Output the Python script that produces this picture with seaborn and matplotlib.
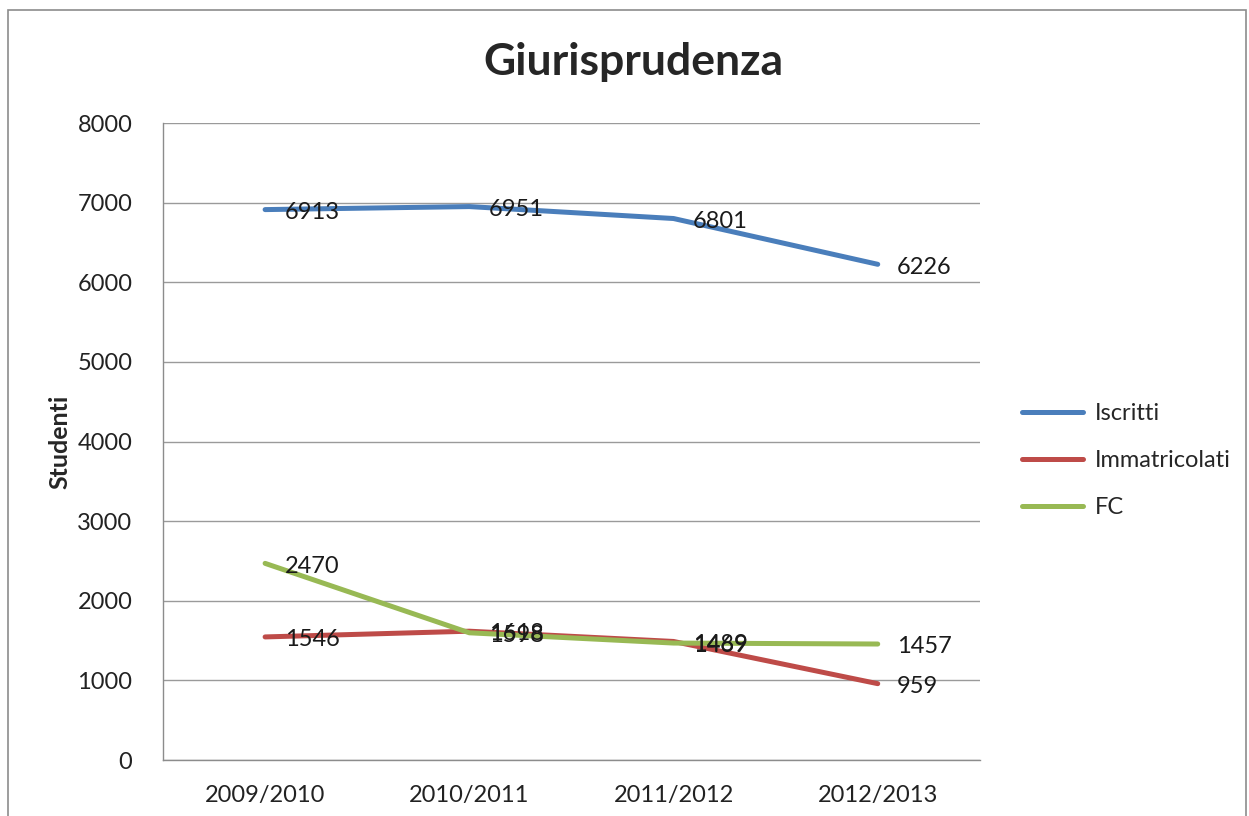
import matplotlib.pyplot as plt
import matplotlib.patches as mpatches
import seaborn as sns
import pandas as pd

years = ["2009/2010", "2010/2011", "2011/2012", "2012/2013"]
iscritti = [6913, 6951, 6801, 6226]
immatricolati = [1546, 1618, 1489, 959]
fc = [2470, 1598, 1469, 1457]
series_names = ["Iscritti", "Immatricolati", "FC"]
colors = ["#4A7EBB", "#BE4B48", "#98B954"]

df = pd.DataFrame({
    "anno": years * 3,
    "x": list(range(len(years))) * 3,
    "studenti": iscritti + immatricolati + fc,
    "serie": [s for s in series_names for _ in years],
})

sns.set_theme(style="white")
plt.rcParams['font.family'] = ['Lato', 'DejaVu Sans']

fig = plt.figure(figsize=(12.49, 8.16), dpi=100)
ax = fig.add_axes([0.1305, 0.0686, 0.654, 0.7806])

sns.lineplot(data=df, x="x", y="studenti", hue="serie", palette=colors,
             linewidth=3.6, ax=ax, legend=True)

# data labels to the right of each point
for _, row in df.iterrows():
    ax.annotate(str(row["studenti"]), (row["x"], row["studenti"]),
                xytext=(14, -2), textcoords="offset points",
                ha="left", va="center", fontsize=17, color="#1a1a1a")

ax.set_xlim(-0.5, len(years) - 0.5)
ax.set_ylim(0, 8000)
ax.set_xticks(range(len(years)))
ax.set_xticklabels(years)
ax.set_yticks(range(0, 8001, 1000))
ax.tick_params(axis="both", length=0, labelsize=17, colors="#222222")
ax.tick_params(axis="x", pad=18)
ax.tick_params(axis="y", pad=22)
ax.yaxis.grid(True, color="#9a9a9a", linewidth=1)
ax.set_axisbelow(True)
for side in ["top", "right"]:
    ax.spines[side].set_visible(False)
for side in ["left", "bottom"]:
    ax.spines[side].set_color("#8c8c8c")
    ax.spines[side].set_linewidth(1)
ax.set_xlabel("")
ax.set_ylabel("Studenti", fontsize=18, fontweight="bold", labelpad=4)

ax.legend(title=None, frameon=False, loc="center left",
          bbox_to_anchor=(1.025, 0.47), fontsize=17, handlelength=2.6,
          handletextpad=0.5, labelspacing=1.1)

fig.suptitle("Giurisprudenza", x=0.507, y=0.948, fontsize=32, fontweight="bold")

fig.patches.append(mpatches.Rectangle((0.0065, -0.05), 0.991, 1.038,
                                      transform=fig.transFigure, fill=False,
                                      edgecolor="#8c8c8c", linewidth=1.2))

fig.savefig("out.png", dpi=100)
